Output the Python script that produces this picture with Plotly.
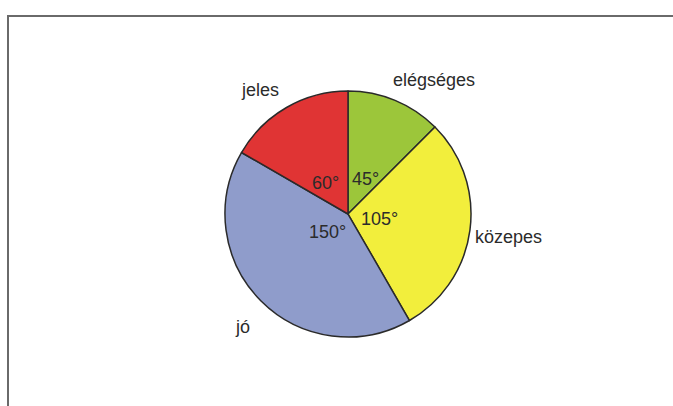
import plotly.graph_objects as go

labels = ["elégséges", "közepes", "jó", "jeles"]
angles = [45, 105, 150, 60]
colors = ["#9CC63A", "#F2EE3C", "#8F9CCB", "#E03434"]
# label positions in pixels (outer name, inner degree)
outer_pos = {
    "elégséges": (434, 80),
    "közepes": (508, 237),
    "jó": (242, 327),
    "jeles": (260, 90),
}
inner_pos = {
    "elégséges": (366, 179),
    "közepes": (379, 219),
    "jó": (327, 232),
    "jeles": (325, 183),
}

W, H = 673, 406
cx, cy, R = 348, 214, 123

fig = go.Figure(go.Pie(
    labels=labels,
    values=angles,
    sort=False,
    direction="clockwise",
    rotation=0,
    textinfo="none",
    hoverinfo="label+value",
    marker=dict(colors=colors, line=dict(color="#2a2a2a", width=1.5)),
    domain=dict(x=[(cx - R) / W, (cx + R) / W],
                y=[(H - cy - R) / H, (H - cy + R) / H]),
    showlegend=False,
))

ann = []
font = dict(family="Liberation Sans, Arial, sans-serif", size=18, color="#2b2b2b")
for lab, a in zip(labels, angles):
    x, y = inner_pos[lab]
    ann.append(dict(x=x / W, y=1 - y / H, xref="paper", yref="paper",
                    text=f"{a}°", showarrow=False, font=font,
                    xanchor="center", yanchor="middle"))
    x, y = outer_pos[lab]
    ann.append(dict(x=x / W, y=1 - y / H, xref="paper", yref="paper",
                    text=lab, showarrow=False, font=font,
                    xanchor="center", yanchor="middle"))

fig.update_layout(
    width=W, height=H,
    margin=dict(l=0, r=0, t=0, b=0),
    paper_bgcolor="white", plot_bgcolor="white",
    annotations=ann,
    shapes=[dict(type="path", xref="paper", yref="paper",
                 path=f"M {8/W} 0 L {8/W} {1-16/H} L 1 {1-16/H}",
                 line=dict(color="#6a6a6a", width=2))],
)

fig.write_html("out.html")
